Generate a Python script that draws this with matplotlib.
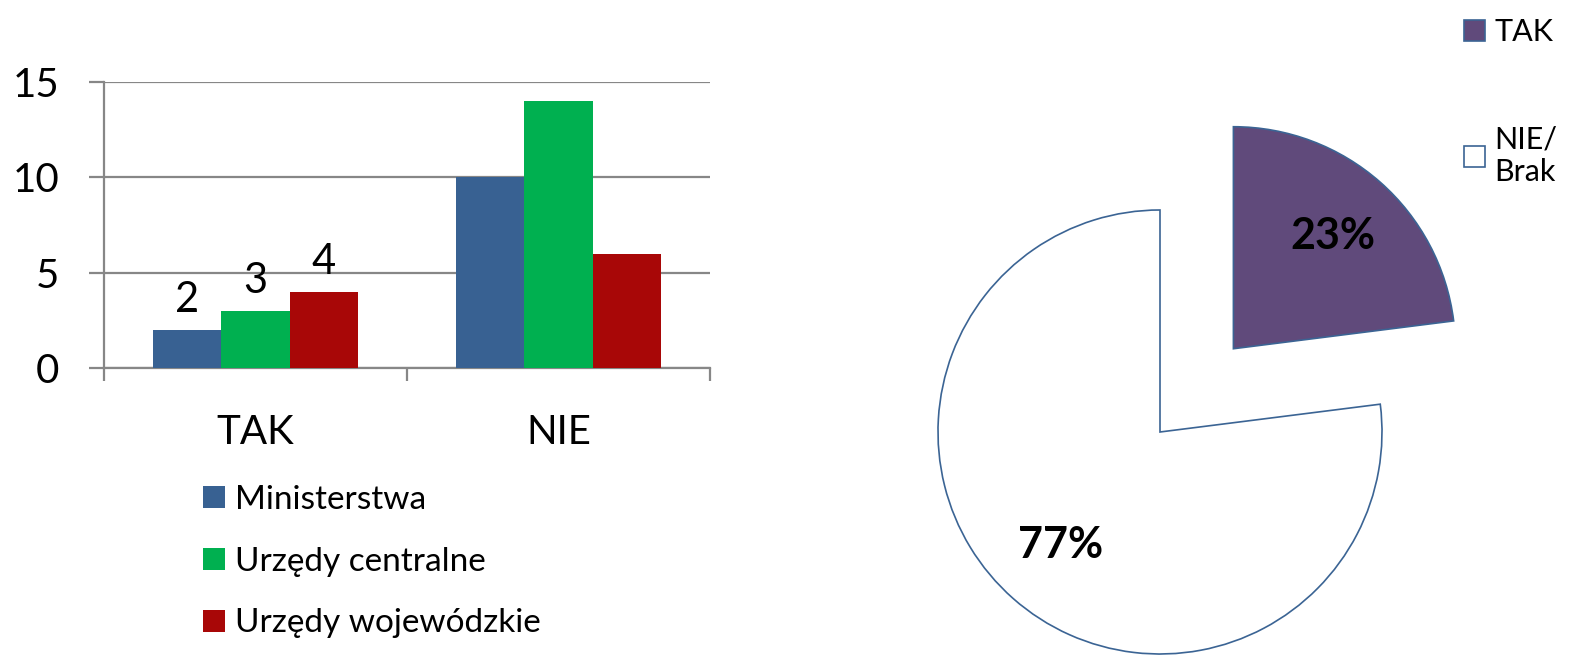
import numpy as np
import matplotlib
matplotlib.use('Agg')
import matplotlib.pyplot as plt

plt.rcParams['font.family'] = ['Lato', 'DejaVu Sans']

# dane - wykres slupkowy
categories = ['TAK', 'NIE']
series_names = ['Ministerstwa', 'Urzędy centralne', 'Urzędy wojewódzkie']
ministerstwa = [2, 10]
urzedy_centralne = [3, 14]
urzedy_wojewodzkie = [4, 6]
bar_colors = ['#386192', '#00B050', '#A80707']

# dane - wykres kolowy
pie_labels = ['TAK', 'NIE/\nBrak']
pie_values = [23, 77]
pie_colors = ['#604A7B', 'white']

W, H = 1595, 661
fig = plt.figure(figsize=(W / 100, H / 100), dpi=100)
grid_c = '#878787'

# --- slupki ---
ax = fig.add_axes([104 / W, 1 - 368 / H, (710 - 104) / W, (368 - 82) / H])
x = np.arange(len(categories))
w = 0.225
series = [ministerstwa, urzedy_centralne, urzedy_wojewodzkie]
for i, (name, vals, c) in enumerate(zip(series_names, series, bar_colors)):
    bars = ax.bar(x + (i - 1) * w, vals, w, color=c, label=name, zorder=3)
    # etykiety tylko dla grupy TAK
    ax.bar_label(bars, labels=[str(vals[0]), ''], padding=8, fontsize=30)

ax.set_xlim(-0.5, 1.5)
ax.set_ylim(0, 15)
ax.set_yticks([0, 5, 10, 15])
ax.grid(axis='y', color=grid_c, lw=1.6, zorder=0)
for s in ['top', 'right']:
    ax.spines[s].set_visible(False)
for s in ['left', 'bottom']:
    ax.spines[s].set_color(grid_c)
    ax.spines[s].set_linewidth(1.6)
ax.tick_params(axis='y', length=11, width=1.6, color=grid_c, pad=21, labelsize=29)
ax.set_xticks(x)
ax.set_xticklabels(categories, fontsize=29)
ax.tick_params(axis='x', which='major', length=0, pad=33)
ax.set_xticks([-0.5, 0.5, 1.5], minor=True)
ax.tick_params(axis='x', which='minor', length=9, width=1.6, color=grid_c)

handles, labels = ax.get_legend_handles_labels()
fig.legend(handles, labels, loc='upper left', bbox_to_anchor=(203 / W, 1 - 485 / H),
           frameon=False, fontsize=24, handlelength=0.65, handleheight=0.65,
           handletextpad=0.3, labelspacing=0.95, borderpad=0, borderaxespad=0)

# --- kolowy ---
R = 222.0
pax = fig.add_axes([900 / W, 0, (W - 900) / W, 1])
wedges, texts, autotexts = pax.pie(
    pie_values, colors=pie_colors, explode=[0.5, 0], startangle=90,
    counterclock=False, autopct='%1.0f%%', pctdistance=0.68,
    wedgeprops=dict(edgecolor='#3B6494', linewidth=1.2),
    textprops=dict(fontsize=31, fontweight='bold'))
pax.set_aspect('auto')
pax.set_xlim(-260 / R, 435 / R)
pax.set_ylim(-229 / R, 432 / R)

fig.legend(wedges, pie_labels, loc='upper left', bbox_to_anchor=(1464 / W, 1 - 18 / H),
           frameon=False, fontsize=22, handlelength=0.7, handleheight=0.7,
           handletextpad=0.3, labelspacing=2.6, borderpad=0, borderaxespad=0)

fig.savefig('out.png', dpi=100)
